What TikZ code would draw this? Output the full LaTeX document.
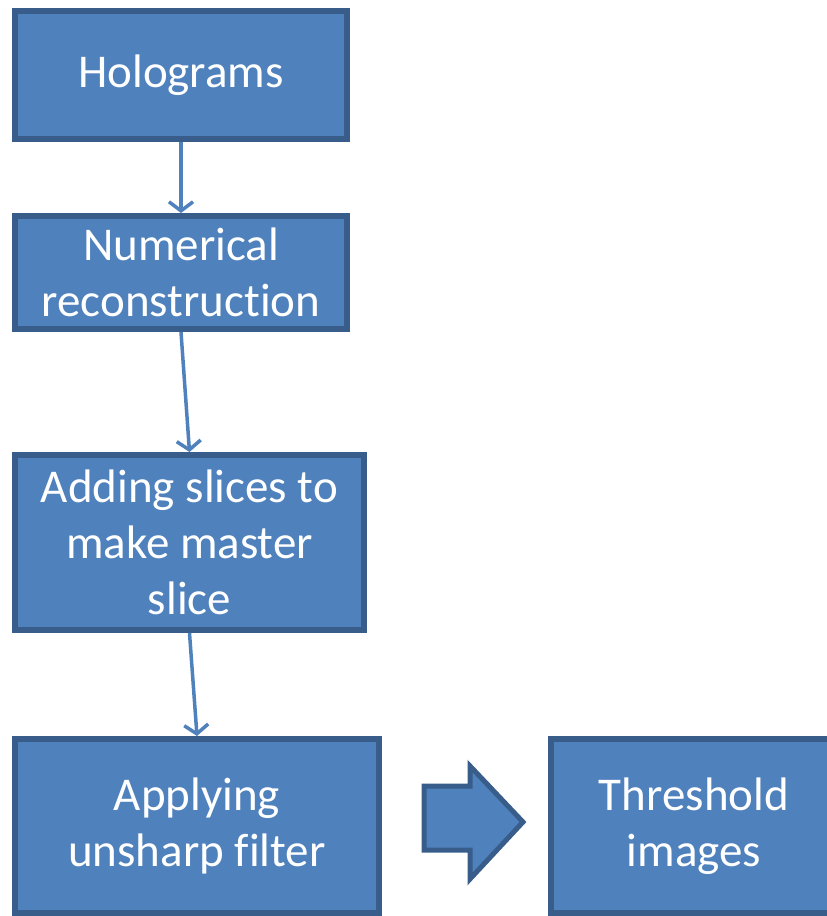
\documentclass[tikz,border=0pt]{standalone}
\usepackage{fontspec}
\setmainfont{Carlito}[Ligatures=NoCommon]
\usetikzlibrary{arrows.meta,positioning}
\definecolor{kastenblau}{HTML}{4F81BD}
\definecolor{randblau}{HTML}{385D8A}
\tikzset{
  schritt/.style={draw=randblau,fill=kastenblau,line width=6pt,text=white,align=center,inner sep=0pt,font=\fontsize{47}{56}\selectfont},
  pfeil/.style={draw=kastenblau,line width=3.5pt,-{Straight Barb[length=9pt,width=24pt]}}
}
\begin{document}
\begin{tikzpicture}[x=1pt,y=-1pt]
\useasboundingbox (0,0) rectangle (827,916);
\clip (0,0) rectangle (827,916);
%Kaesten, Mitte und Groesse in Pixeln des Bildes
\node[schritt,minimum width=332pt,minimum height=128pt] (holo) at (181,75) {Holograms};
\node[schritt,minimum width=332pt,minimum height=113pt] (rekon) at (181,272.5) {Numerical\\reconstruction};
\node[schritt,minimum width=349pt,minimum height=175pt] (master) at (189.5,542.5) {Adding slices to\\make master\\slice};
\node[schritt,minimum width=364pt,minimum height=174pt] (filter) at (197,826) {Applying\\unsharp filter};
\node[schritt,minimum width=286pt,minimum height=174pt] (schwelle) at (694,826) {Threshold\\images};
%Verbindungen
\draw[pfeil] (holo.south) -- (rekon.north);
\draw[pfeil] (rekon.south) -- (master.north);
\draw[pfeil] (master.south) -- (filter.north);
%Blockpfeil
\draw[randblau,fill=kastenblau,line width=5pt,line join=miter] (424,786) -- (470,786) -- (470,766) -- (523,822) -- (470,879) -- (470,850) -- (424,850) -- cycle;
\end{tikzpicture}
\end{document}
